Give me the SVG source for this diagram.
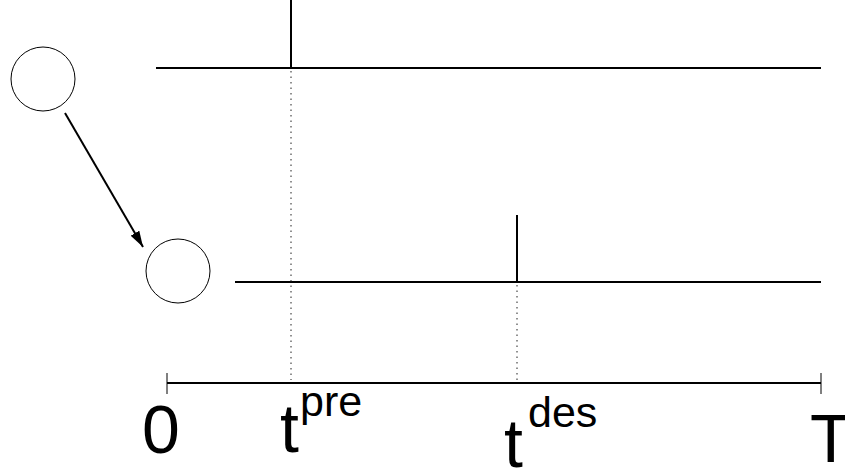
<svg xmlns="http://www.w3.org/2000/svg" width="845" height="470" viewBox="0 0 845 470">
<style>
.ln{stroke:#000;stroke-width:2;fill:none}
.dot{stroke:#222;stroke-width:1;stroke-dasharray:1.5 4;fill:none}
.node{fill:#fff;stroke:#000;stroke-width:1}
.lbl{font-family:"Liberation Sans",Arial,sans-serif;fill:#000}
.big{font-size:68px}
.sup{font-size:43px}
</style>
<defs>
<marker id="arr" viewBox="0 0 16 10" refX="16" refY="5" markerWidth="16" markerHeight="10" markerUnits="userSpaceOnUse" orient="auto">
<path d="M0,0 L16,5 L0,10 Z" fill="#000"/>
</marker>
</defs>
<g id="node1"><circle class="node" cx="43" cy="79" r="32"/></g>
<g id="node2"><circle class="node" cx="178" cy="271" r="32"/></g>
<g id="connectors">
<line class="ln" x1="65" y1="113" x2="143" y2="247" marker-end="url(#arr)"/>
</g>
<g id="trains">
<line class="ln" x1="156" y1="68" x2="821" y2="68"/>
<line class="ln" x1="291" y1="0" x2="291" y2="68"/>
<line class="ln" x1="235" y1="282" x2="821" y2="282"/>
<line class="ln" x1="517" y1="215" x2="517" y2="282"/>
<line class="dot" x1="291" y1="71" x2="291" y2="380"/>
<line class="dot" x1="517" y1="285" x2="517" y2="380"/>
</g>
<g id="axis">
<line class="ln" x1="167" y1="383" x2="821" y2="383"/>
<line x1="167" y1="373" x2="167" y2="394" stroke="#000" stroke-width="1"/>
<line x1="821" y1="373" x2="821" y2="394" stroke="#000" stroke-width="1"/>
<text class="lbl big" x="142" y="453">0</text>
<text class="lbl big" x="280" y="452">t</text>
<text class="lbl sup" x="300" y="416">pre</text>
<text class="lbl big" x="504" y="467">t</text>
<text class="lbl sup" x="528" y="427">des</text>
<text class="lbl big" x="810" y="462">T</text>
</g>
</svg>
